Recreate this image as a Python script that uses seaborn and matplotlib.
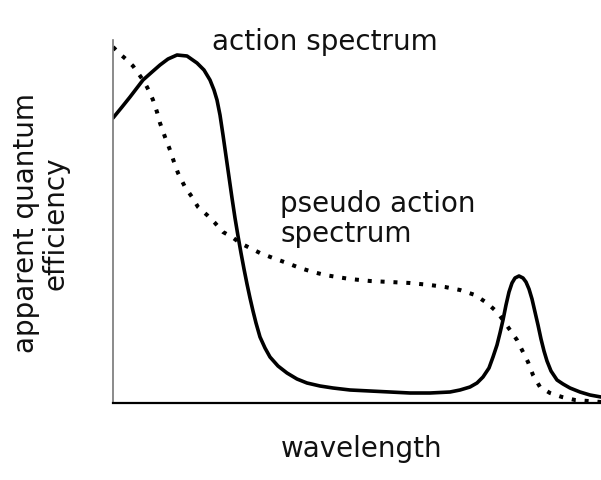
import matplotlib.pyplot as plt
import pandas as pd
import seaborn as sns

action_x = [0, 9, 17, 30, 39, 47, 55, 64, 74, 84, 91, 97, 101, 104, 107, 110, 113,
            116, 119, 122, 125, 128, 131, 134, 137, 140, 143, 147, 152, 157,
            165, 174, 184, 194, 207, 220, 237, 257, 277, 297, 317, 337, 347, 357,
            364, 370, 376, 380, 384, 387, 390, 393, 396, 399, 402, 406, 410,
            413, 416, 419, 422, 425, 428, 431, 434, 438, 444, 450, 457, 467, 477, 488]
action_y = [285, 296, 306, 323, 331, 338, 344, 348, 347, 340, 333, 323, 313, 303,
            288, 268, 247, 226, 205, 185, 167, 150, 134, 119, 105, 92, 80, 66,
            55, 46, 37, 30, 24, 20, 17, 15, 13, 12, 11, 10, 10, 11, 13, 16, 20, 26,
            35, 46, 58, 70, 83, 98, 111, 120, 125, 127, 125, 121, 114, 104, 91,
            78, 64, 52, 42, 32, 23, 19, 15, 11, 8, 6]

pseudo_x = [0, 7, 14, 20, 25, 30, 34, 37, 40, 44, 47, 52, 57, 61, 65, 72, 79, 85,
            94, 102, 110, 119, 127, 137, 147, 160, 174, 187, 200, 212, 224, 237,
            257, 277, 297, 317, 332, 347, 362, 374, 384, 390, 397, 404, 410, 415,
            420, 427, 437, 449, 462, 475, 488]
pseudo_y = [356, 349, 343, 337, 330, 323, 316, 310, 303, 291, 280, 266, 253, 241,
            230, 216, 206, 196, 188, 180, 171, 166, 160, 155, 150, 145, 140, 135,
            131, 128, 126, 124, 122, 121, 120, 118, 116, 113, 108, 100, 91, 83, 73,
            63, 51, 41, 28, 16, 10, 6, 3, 2, 1]

action = pd.DataFrame({'wavelength': action_x, 'efficiency': action_y})
pseudo = pd.DataFrame({'wavelength': pseudo_x, 'efficiency': pseudo_y})

sns.set_style('white')
plt.rcParams['font.family'] = ['DejaVu Sans']

fig = plt.figure(figsize=(6.01, 4.80), dpi=100)
ax = fig.add_axes([113 / 601, 77 / 480, 488 / 601, 363 / 480])

sns.lineplot(data=action, x='wavelength', y='efficiency', ax=ax,
             color='black', linewidth=2.6, sort=False,
             solid_joinstyle='round', solid_capstyle='round')
sns.lineplot(data=pseudo, x='wavelength', y='efficiency', ax=ax,
             color='black', linewidth=2.9, sort=False,
             linestyle=(0, (1, 2.2)), dash_capstyle='butt')

ax.set_xlim(0, 488)
ax.set_ylim(0, 363)
ax.set_xticks([])
ax.set_yticks([])
ax.set_xlabel('')
ax.set_ylabel('')
for side in ['top', 'right']:
    ax.spines[side].set_visible(False)
ax.spines['left'].set_color('#777777')
ax.spines['left'].set_linewidth(1.2)
ax.spines['bottom'].set_color('black')
ax.spines['bottom'].set_linewidth(1.6)

txt = dict(fontsize=20, color='#111111')
fig.text(325 / 601, 1 - 42 / 480, 'action spectrum', ha='center', va='center', **txt)
fig.text(280 / 601, 1 - 219 / 480, 'pseudo action\nspectrum', ha='left', va='center',
         linespacing=1.05, **txt)
fig.text(362 / 601, 1 - 449 / 480, 'wavelength', ha='center', va='center', **txt)
fig.text(41 / 601, 1 - 223 / 480, 'apparent quantum\nefficiency', ha='center', va='center',
         rotation=90, multialignment='center', linespacing=1.05, **txt)

fig.savefig('out.png', dpi=100)
